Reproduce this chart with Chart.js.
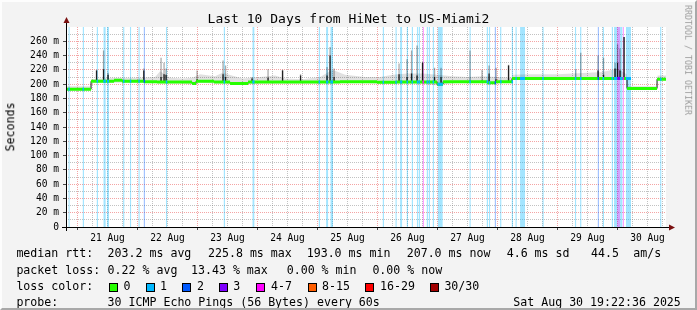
<!DOCTYPE html>
<html>
<head>
<meta charset="utf-8">
<script src="https://cdn.jsdelivr.net/npm/chart.js@4.4.1/dist/chart.umd.min.js"></script>
<style>
  html, body { margin: 0; padding: 0; background: #f3f3f3; }
  #wrap { position: relative; width: 697px; height: 310px; overflow: hidden; font-family: 'DejaVu Sans Mono', monospace; color: #000; }
  #chart { position: absolute; left: 0; top: 0; }
  #frame { position: absolute; left: 0; top: 0; width: 697px; height: 310px; box-sizing: border-box;
           border-top: 2px solid #fdfdfd; border-left: 2px solid #fdfdfd; border-right: 2px solid #a8a8a8; border-bottom: 2px solid #a8a8a8; pointer-events: none; }
  .t { position: absolute; white-space: pre; font-size: 11.6px; line-height: 1; }
  .box { position: absolute; width: 9px; height: 9px; box-sizing: border-box; border: 1px solid #000; }
  #title { position: absolute; left: 0; width: 697px; top: 12px; text-align: center; font-size: 13px; line-height: 1; white-space: pre; }
  #ylab { position: absolute; left: 11px; top: 127px; font-size: 11.6px; line-height: 1; white-space: pre; transform: translate(-50%, -50%) rotate(-90deg); }
  #credit { position: absolute; left: 688px; top: 60px; font-size: 8.3px; line-height: 1; color: #9c9c9c; white-space: pre; transform: translate(-50%, -50%) rotate(90deg); }
</style>
</head>
<body>
<div id="wrap">
  <canvas id="chart" width="697" height="310"></canvas>
  <div id="title">Last 10 Days from HiNet to US-Miami2</div>
  <div id="ylab">Seconds</div>
  <div id="credit">RRDTOOL / TOBI OETIKER</div>
  <div id="legend"></div>
  <div id="frame"></div>
</div>
<script>
// time axis is hours since 20 Aug 00:00; graph spans 20 Aug 19:22:36 .. 30 Aug 19:22:36
const startHour = 19.376;
const endHour = 259.376;
const dayLabels = ['21 Aug', '22 Aug', '23 Aug', '24 Aug', '25 Aug', '26 Aug', '27 Aug', '28 Aug', '29 Aug', '30 Aug'];

// median rtt (ms), value holds from each hour until the next one
const medianHours = [19.4, 29.4, 38.6, 41.8, 50.6, 55.8, 69.8, 71.4, 78.6, 85, 92.2, 129, 143.8, 151.4, 167.8, 170.2, 187.8, 191.4, 197.8, 243.8, 255.8, 259.4];
const medianMs    = [193, 204, 205.5, 204, 203.5, 203, 201, 204, 203, 201, 203, 203.5, 202.5, 203, 200, 203.5, 202, 203.5, 208, 194, 207, 207];

// light smoke upper edge (ms)
const smokeHours = [19.4, 29.2, 29.6, 38, 44, 50, 55, 57, 61, 66, 70, 73, 79, 82, 84, 90, 97, 103, 107, 114, 121, 126, 131, 139, 145, 150, 156, 162, 168, 174, 180, 186, 192, 197.6, 198, 204, 210, 216, 222, 228, 234, 240, 243.6, 244, 250, 255.6, 256, 259.4];
const smokeHigh  = [197, 197, 207, 209, 209, 209, 210, 218, 209, 208, 209, 214, 211, 216, 214, 208, 210, 212, 208, 207, 210, 220, 213, 210, 210, 213, 215, 215, 213, 211, 210, 211, 210, 209, 213, 214, 214, 214, 215, 216, 217, 222, 214, 197, 197, 197, 212, 212];

// smoke spikes: dark core top and faint top (ms)
const spikeHours   = [31.6, 34.4, 36.2, 50.5, 57.4, 58.6, 59.4, 71.8, 82.2, 83.2, 93.8, 100.2, 106, 113.2, 123.8, 125, 126.6, 152.6, 155.8, 157.6, 159.8, 162, 166.8, 169.4, 181, 185.8, 188.6, 191.4, 196.4, 223.3, 225.3, 232.2, 234.4, 239, 240, 241, 242.6];
const spikeDarkTop = [219, 221, 213, 219, 210, 214, 213, 207, 214, 210, 208, 209, 219, 212, 212, 240, 210, 214, 210, 215, 212, 230, 210, 210, 205, 205, 215, 207, 226, 210, 210, 219, 213, 222, 230, 219, 266];
const spikeTop     = [220, 247, 216, 222, 237, 230, 222, 219, 233, 226, 210, 221, 220, 214, 224, 252, 222, 229, 235, 247, 254, 231, 223, 223, 247, 220, 226, 223, 227, 221, 244, 240, 237, 230, 256, 250, 266];

// packet loss periods (hours) and loss class (1 = "1", 2 = "2", 3 = "3", 4 = "4-7")
const lossStart = [20.3, 26.0, 31.6, 34.3, 35.8, 42.2, 44.9, 48.3, 50.4, 59.3, 82.4, 93.9, 120.4, 123.4, 125.1, 146.0, 151.1, 153.0, 155.6, 157.6, 159.7, 160.4, 162.0, 163.6, 164.4, 166.0, 168.0, 180.7, 187.6, 188.5, 190.8, 193.0, 197.6, 199.1, 201.0, 209.9, 222.9, 225.0, 232.0, 234.0, 237.6, 238.6, 239.8, 241.0, 242.0, 243.3, 257.0];
const lossEnd   = [20.9, 26.6, 32.2, 35.3, 36.6, 42.8, 45.5, 48.9, 51.0, 59.9, 83.0, 94.8, 121.0, 124.3, 126.2, 146.6, 151.7, 153.9, 156.2, 158.2, 160.3, 161.0, 162.6, 164.2, 165.0, 166.6, 170.1, 181.3, 188.2, 189.1, 191.4, 193.6, 198.2, 199.7, 203.0, 210.5, 223.5, 225.6, 232.6, 234.6, 238.2, 239.8, 241.0, 242.0, 242.6, 245.4, 257.6];
const lossLevel = [1, 1, 1, 1, 1, 1, 1, 1, 2, 1, 1, 1, 1, 1, 1, 1, 1, 1, 1, 1, 1, 1, 4, 1, 1, 1, 1, 1, 1, 1, 2, 1, 1, 1, 1, 1, 1, 1, 2, 1, 1, 1, 3, 1, 4, 1, 1];

const lossLine = { 1: '#00b8ff', 2: '#0059ff', 3: '#7e00ff', 4: '#ff00ff' };
const lossFill = { 1: 'rgba(0,184,255,0.36)', 2: 'rgba(0,89,255,0.36)', 3: 'rgba(126,0,255,0.36)', 4: 'rgba(255,0,255,0.36)' };

function medianAt(h) {
    let v = medianMs[0];
    for (let i = 0; i < medianHours.length; i++) if (medianHours[i] <= h) v = medianMs[i];
    return v;
}

const base = { pointRadius: 0, pointHoverRadius: 0, borderCapStyle: 'butt', spanGaps: false, tension: 0 };
const datasets = [];

// loss background bars
[1, 2, 3, 4].forEach(level => {
    const pts = [];
    lossStart.forEach((s, i) => {
        if (lossLevel[i] !== level) return;
        pts.push({ x: s, y: 280 }, { x: lossEnd[i], y: 280 }, { x: lossEnd[i], y: null });
    });
    datasets.push({ ...base, data: pts, borderWidth: 0, borderColor: 'transparent', fill: 'origin', backgroundColor: lossFill[level], order: 10 });
});

// light smoke band
datasets.push({ ...base, data: smokeHours.map(h => ({ x: h, y: medianAt(h) - 2 })), borderWidth: 0, borderColor: 'transparent', fill: false, order: 9 });
datasets.push({ ...base, data: smokeHours.map((h, i) => ({ x: h, y: smokeHigh[i] })), borderWidth: 0, borderColor: 'transparent', fill: '-1', backgroundColor: 'rgba(0,0,0,0.12)', order: 9 });

// spikes
function spikePts(tops) {
    const pts = [];
    spikeHours.forEach((h, i) => pts.push({ x: h, y: medianAt(h) }, { x: h, y: tops[i] }, { x: h, y: null }));
    return pts;
}
datasets.push({ ...base, data: spikePts(spikeTop), borderColor: 'rgba(0,0,0,0.33)', borderWidth: 1.3, fill: false, order: 8 });
datasets.push({ ...base, data: spikePts(spikeDarkTop), borderColor: 'rgba(0,0,0,0.8)', borderWidth: 1.3, fill: false, order: 7 });

// median: thin dark connector, thick green levels, loss-coloured pieces
datasets.push({ ...base, data: medianHours.map((h, i) => ({ x: h, y: medianMs[i] })), stepped: true, borderColor: '#1a1a1a', borderWidth: 1, fill: false, order: 6 });
const greenPts = [];
for (let i = 0; i < medianHours.length - 1; i++) {
    greenPts.push({ x: medianHours[i], y: medianMs[i] }, { x: medianHours[i + 1], y: medianMs[i] }, { x: medianHours[i + 1], y: null });
}
datasets.push({ ...base, data: greenPts, borderColor: '#26ff00', borderWidth: 3, fill: false, order: 5 });
[1, 2, 3, 4].forEach(level => {
    const pts = [];
    lossStart.forEach((s, i) => {
        if (lossLevel[i] !== level) return;
        const v = medianAt(s);
        pts.push({ x: s, y: v }, { x: lossEnd[i], y: v }, { x: lossEnd[i], y: null });
    });
    datasets.push({ ...base, data: pts, borderColor: lossLine[level], borderWidth: 3, fill: false, order: 4 });
});

const majorGrid = 'rgba(235,90,90,0.55)';
const minorGrid = 'rgba(120,120,120,0.45)';

const rrdFrame = {
    id: 'rrdFrame',
    beforeDraw(chart) {
        const { ctx, chartArea: a } = chart;
        ctx.save();
        ctx.fillStyle = '#ffffff';
        ctx.fillRect(a.left, a.top, a.right - a.left, a.bottom - a.top);
        ctx.restore();
    },
    afterDraw(chart) {
        const { ctx, chartArea: a } = chart;
        ctx.save();
        ctx.strokeStyle = '#000';
        ctx.lineWidth = 1;
        ctx.beginPath();
        ctx.moveTo(a.left - 4, a.bottom + 0.5);
        ctx.lineTo(a.right + 4, a.bottom + 0.5);
        ctx.moveTo(a.left + 0.5, a.bottom + 4);
        ctx.lineTo(a.left + 0.5, a.top - 4);
        ctx.stroke();
        ctx.fillStyle = '#7a1010';
        ctx.beginPath();
        ctx.moveTo(a.right + 9, a.bottom + 0.5);
        ctx.lineTo(a.right + 3, a.bottom - 2.5);
        ctx.lineTo(a.right + 3, a.bottom + 3.5);
        ctx.fill();
        ctx.beginPath();
        ctx.moveTo(a.left + 0.5, a.top - 10);
        ctx.lineTo(a.left - 2.5, a.top - 4);
        ctx.lineTo(a.left + 3.5, a.top - 4);
        ctx.fill();
        ctx.restore();
    }
};

Chart.defaults.font.family = "'DejaVu Sans Mono', monospace";
Chart.defaults.color = '#000';

new Chart(document.getElementById('chart'), {
    type: 'line',
    data: { datasets },
    options: {
        responsive: false,
        animation: false,
        devicePixelRatio: 1,
        events: [],
        layout: { padding: { left: 0, top: 27, right: 31, bottom: 0 } },
        plugins: { legend: { display: false }, tooltip: { enabled: false }, title: { display: false } },
        scales: {
            x: {
                type: 'linear',
                min: startHour,
                max: endHour,
                afterFit: s => { s.height = 83; },
                afterBuildTicks: s => {
                    const t = [];
                    for (let h = 24; h < endHour; h += 6) t.push({ value: h });
                    s.ticks = t;
                },
                grid: {
                    color: c => (c.tick && c.tick.value % 24 === 0 ? majorGrid : minorGrid),
                    lineWidth: 1,
                    drawTicks: true,
                    tickLength: 3,
                    tickColor: c => (c.tick && c.tick.value % 24 === 0 ? 'rgba(0,0,0,0.7)' : 'transparent'),
                    tickBorderDash: []
                },
                border: { display: false, dash: [1, 1] },
                ticks: {
                    autoSkip: false,
                    maxRotation: 0,
                    padding: 3,
                    font: { size: 9.6 },
                    callback: v => (v % 24 === 12 ? dayLabels[(v - 36) / 24] : '')
                }
            },
            y: {
                type: 'linear',
                min: 0,
                max: 280,
                afterFit: s => { s.width = 66; },
                grid: {
                    color: c => (c.tick && c.tick.value === 280 ? 'transparent' : (c.tick && c.tick.value % 20 === 0 ? majorGrid : minorGrid)),
                    lineWidth: 1,
                    drawTicks: true,
                    tickLength: 3,
                    tickColor: c => (c.tick && c.tick.value % 20 === 0 && c.tick.value < 280 ? 'rgba(0,0,0,0.7)' : 'transparent'),
                    tickBorderDash: []
                },
                border: { display: false, dash: [1, 1] },
                ticks: {
                    autoSkip: false,
                    stepSize: 10,
                    padding: 4,
                    font: { size: 9.6 },
                    callback: v => (v === 0 ? '0' : (v % 20 === 0 && v < 280 ? v + ' m' : ''))
                }
            }
        }
    },
    plugins: [rrdFrame]
});

// legend rows (text as in the rrdtool footer)
const legendRows = [
    { y: 254, items: [[16.4, 'median rtt:'], [107.6, '203.2 ms avg'], [208, '225.8 ms max'], [306.7, '193.0 ms min'], [406.7, '207.0 ms now'], [506.7, '4.6 ms sd'], [591, '44.5'], [633.3, 'am/s']] },
    { y: 270.5, items: [[16.4, 'packet loss:'], [107.6, '0.22 % avg'], [191, '13.43 % max'], [286.7, '0.00 % min'], [372.4, '0.00 % now']] },
    { y: 287, items: [[16.4, 'loss color:'], [123.6, '0'], [160, '1'], [196.9, '2'], [233.3, '3'], [271, '4-7'], [322, '8-15'], [380, '16-29'], [444.4, '30/30']] },
    { y: 303, items: [[16.4, 'probe:'], [107.6, '30 ICMP Echo Pings (56 Bytes) every 60s'], [513.3, 'Sat Aug 30 19:22:36 2025']] }
];
const lossBoxes = [[108.9, '#26ff00'], [145.8, '#00b8ff'], [182.2, '#0059ff'], [219, '#7e00ff'], [256.4, '#ff00ff'], [307.6, '#ff5e00'], [365.3, '#ff0000'], [430, '#a10000']];

const legend = document.getElementById('legend');
legendRows.forEach(row => {
    row.items.forEach(([x, text]) => {
        const d = document.createElement('div');
        d.className = 't';
        d.style.left = x + 'px';
        d.style.top = (row.y - 6) + 'px';
        d.textContent = text;
        legend.appendChild(d);
    });
});
lossBoxes.forEach(([x, color]) => {
    const b = document.createElement('div');
    b.className = 'box';
    b.style.left = x + 'px';
    b.style.top = (287 - 4.5) + 'px';
    b.style.background = color;
    legend.appendChild(b);
});
</script>
</body>
</html>
